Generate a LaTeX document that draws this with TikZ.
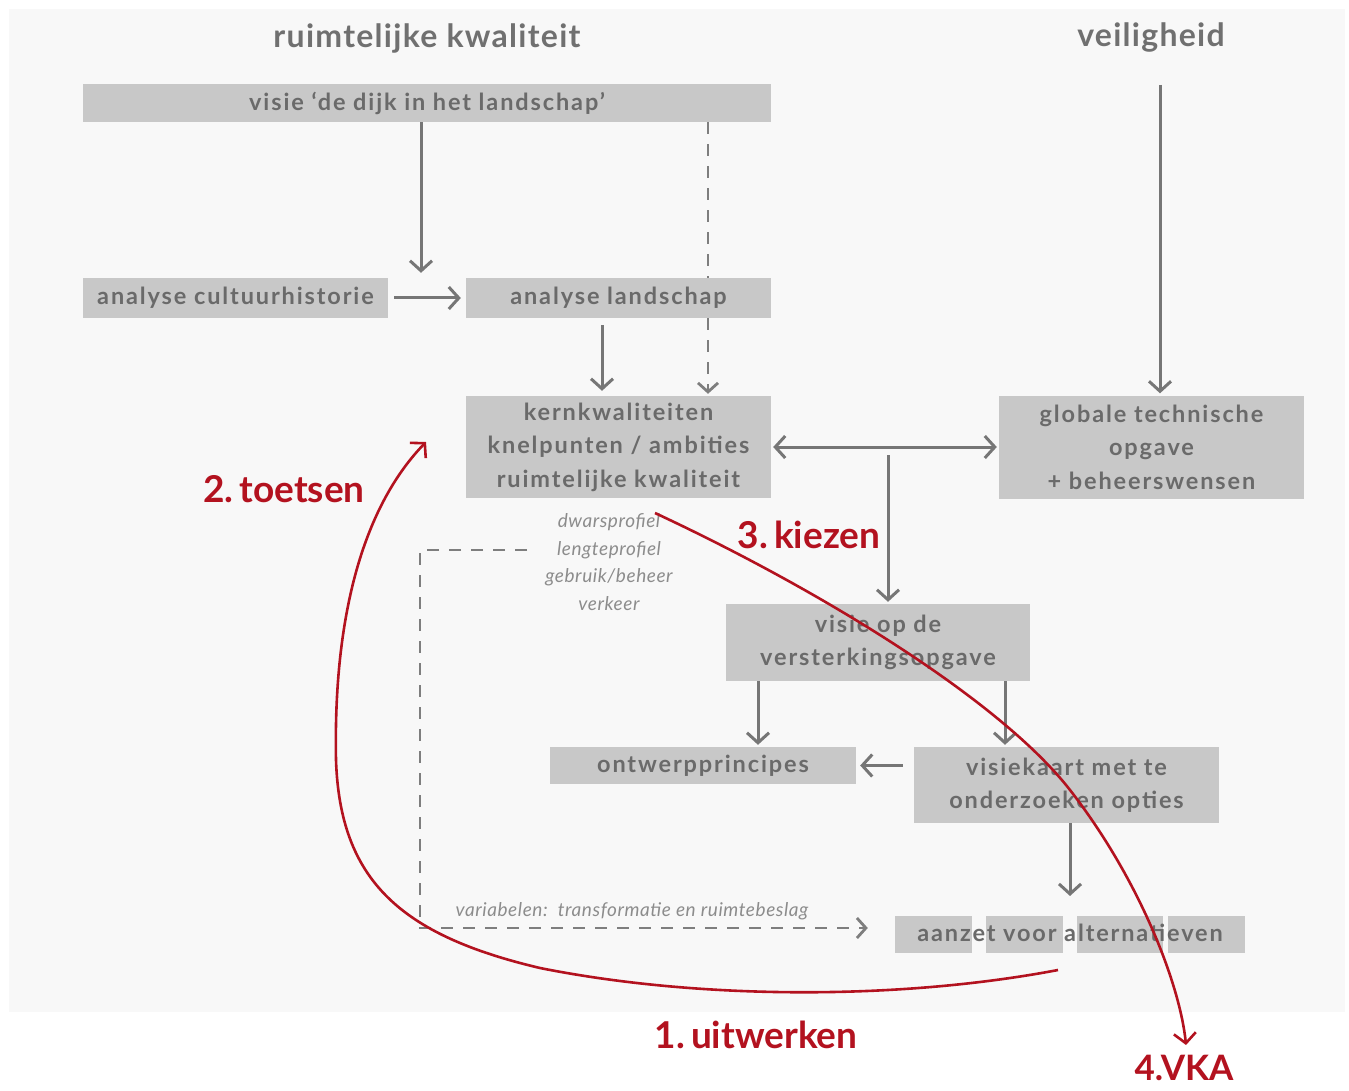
\documentclass[tikz,border=0pt]{standalone}
\usepackage{fontspec}
\setmainfont{Lato}
\newfontfamily\spacedfont[LetterSpace=8]{Lato}
\newfontfamily\headfont[LetterSpace=4]{Lato}
\newfontfamily\notefont[LetterSpace=3]{Lato}
\usetikzlibrary{arrows.meta}
\definecolor{panel}{HTML}{F8F8F8}
\definecolor{boxfill}{HTML}{C8C8C8}
\definecolor{boxtext}{HTML}{6A6A6A}
\definecolor{titletext}{HTML}{707070}
\definecolor{linegray}{HTML}{767676}
\definecolor{dashgray}{HTML}{7E7E7E}
\definecolor{notegray}{HTML}{8C8C8C}
\definecolor{stepred}{HTML}{B3121F}
\tikzset{
  box/.style={fill=boxfill, text=boxtext, font=\spacedfont\fontsize{23.5}{33.5}\selectfont\bfseries,
    inner sep=0pt, align=center},
  piece/.style={fill=boxfill, inner sep=0pt},
  heading/.style={text=titletext, font=\headfont\fontsize{32}{36}\selectfont\bfseries},
  note/.style={text=notegray, font=\notefont\fontsize{19}{27.5}\selectfont\itshape, align=center},
  steplabel/.style={text=stepred, font=\fontsize{37}{42}\selectfont\bfseries},
  flow/.style={draw=linegray, line width=3pt,
    -{Straight Barb[length=10pt,width=22pt]}},
  twoway/.style={draw=linegray, line width=3pt,
    {Straight Barb[length=10pt,width=22pt]}-{Straight Barb[length=10pt,width=22pt]}},
  dashflow/.style={draw=dashgray, line width=2.8pt, dash pattern=on 12pt off 10pt,
    -{Straight Barb[length=9pt,width=20pt]}},
  dashline/.style={draw=dashgray, line width=2.8pt, dash pattern=on 12pt off 10pt},
  redflow/.style={draw=stepred, line width=2.6pt,
    -{Straight Barb[length=10pt,width=22pt]}},
}
\begin{document}
\begin{tikzpicture}[x=1pt,y=-1pt]
\path[use as bounding box] (0,0) rectangle (1349,1091);
\fill[white] (0,0) rectangle (1349,1091);
\fill[panel] (9,9) rectangle (1345,1012);

% column headings
\node[heading] (hq) at (427,38) {ruimtelijke kwaliteit};
\node[heading] (hv) at (1151,38) {veiligheid};

% boxes
\node[box, minimum width=688, minimum height=38] (visie) at (427,103) {visie ‘de dijk in het landschap’};
\node[box, minimum width=305, minimum height=40] (cult) at (235.5,298) {analyse cultuurhistorie};
\node[box, minimum width=305, minimum height=40] (land) at (618.5,298) {analyse landschap};
\node[box, minimum width=305, minimum height=102] (kern) at (618.5,447)
  {kernkwaliteiten\\knelpunten / ambities\\ruimtelijke kwaliteit};
\node[box, minimum width=305, minimum height=103] (glob) at (1151.5,447)
  {globale technische\\opgave\\+ beheerswensen};
\node[box, minimum width=304, minimum height=77] (vop) at (878,642.5)
  {visie op de\\versterkingsopgave};
\node[box, minimum width=306, minimum height=37] (ontw) at (703,765.5) {ontwerpprincipes};
\node[box, minimum width=305, minimum height=76] (kaart) at (1066.5,785)
  {visiekaart met te\\onderzoeken opties};

% split bar behind the last step
\node[piece, minimum width=77, minimum height=37] (az1) at (933.5,934.5) {};
\node[piece, minimum width=77, minimum height=37] (az2) at (1024.5,934.5) {};
\node[piece, minimum width=86, minimum height=37] (az3) at (1120,934.5) {};
\node[piece, minimum width=77, minimum height=37] (az4) at (1206.5,934.5) {};
\node[text=boxtext, font=\spacedfont\fontsize{23.5}{26}\selectfont\bfseries, inner sep=0pt] (aanzet) at (1070,933)
  {aanzet voor alternatieven};

% notes
\node[note] (aspects) at (609,562) {dwarsprofiel\\lengteprofiel\\gebruik/beheer\\verkeer};
\node[note, font=\notefont\fontsize{19}{22}\selectfont\itshape] (vars) at (632,911)
  {variabelen:\ \ transformatie en ruimtebeslag};

% grey connectors
\draw[flow, shorten >=5pt] (visie.south -| 421,0) -- (cult.north -| 421,0) ;
\draw[flow, shorten <=6pt, shorten >=5pt] (cult.east) -- (land.west);
\draw[flow, shorten <=7pt, shorten >=5pt] (land.south -| 602,0) -- (kern.north -| 602,0);
\draw[dashline] (visie.south -| 708,0) -- (land.north -| 708,0);
\draw[dashflow, shorten >=2pt] (land.south -| 708,0) -- (kern.north -| 708,0);
\coordinate (vtop) at (1160,85);
\draw[flow, shorten >=2pt] (vtop) -- (glob.north -| vtop);
\draw[twoway, shorten <=2pt, shorten >=2pt] (kern.east) -- (glob.west);
\coordinate (split) at (888,455);
\draw[flow, shorten >=2pt] (split) -- (vop.north -| split);
\draw[flow, shorten >=2pt] (vop.south -| 758,0) -- (ontw.north -| 758,0);
\draw[flow, shorten >=2pt] (vop.south -| 1005,0) -- (kaart.north -| 1005,0);
\draw[flow, shorten <=11pt, shorten >=4pt] (kaart.west |- ontw) -- (ontw.east);
\draw[flow, shorten >=28pt] (kaart.south -| 1070,0) -- (aanzet.north -| 1070,0);
\coordinate (dstart) at (527,550);
\draw[dashflow, shorten >=27pt] (dstart) -- (420,550) -- (420,928) -- (az1.west |- 0,928);

% red process loop
\coordinate (loopstart) at (1058,970);
\coordinate (loopend) at (426,442);
\draw[redflow] (loopstart) .. controls (900,1000) and (700,1000) .. (540,968)
  .. controls (400,935) and (340,880) .. (336,760)
  .. controls (333,600) and (370,500) .. (loopend);
\node[steplabel, font=\fontsize{35}{40}\selectfont\bfseries] (vka) at (1184,1068) {4.VKA};
\coordinate (vkatop) at (1186,1045);
\coordinate (cstart) at (655,513);
\draw[redflow] (cstart) .. controls (820,590) and (1000,700) .. (1070,790)
  .. controls (1140,880) and (1180,985) .. (vkatop);

% step labels
\node[steplabel] (s1) at (756,1035) {1.\,uitwerken};
\node[steplabel] (s2) at (284,489) {2.\,toetsen};
\node[steplabel] (s3) at (809,535) {3.\,kiezen};
\end{tikzpicture}
\end{document}
